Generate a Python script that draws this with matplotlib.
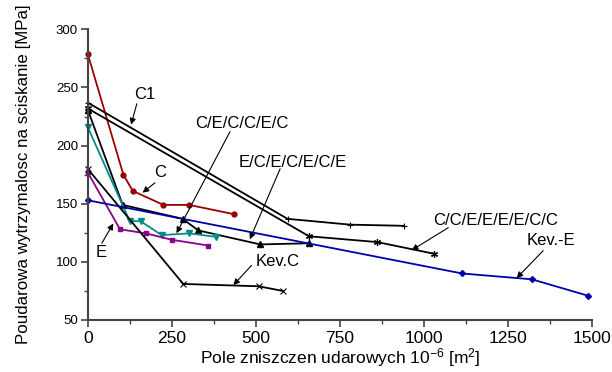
import matplotlib
matplotlib.use("Agg")
import matplotlib.pyplot as plt
from matplotlib.ticker import MultipleLocator

plt.rcParams['font.family'] = ['Liberation Sans', 'DejaVu Sans']
plt.rcParams['mathtext.fontset'] = 'custom'
plt.rcParams['mathtext.rm'] = 'Liberation Sans'
plt.rcParams['mathtext.it'] = 'Liberation Sans:italic'
plt.rcParams['mathtext.bf'] = 'Liberation Sans:bold'

# ---- data ----
c_x = [0, 106, 134, 225, 301, 435]
c_y = [279, 175, 161, 149, 149, 141]

c1_x = [0, 594, 780, 940]
c1_y = [237, 137, 132, 131]

ccee_x = [0, 658, 861, 1029]
ccee_y = [232, 122, 117, 107]

ecec_x = [0, 104, 282, 329, 513, 659]
ecec_y = [231, 149, 137, 127, 115, 116]

cecc_x = [0, 125, 157, 220, 302, 381]
cecc_y = [216, 135, 135, 123, 124.5, 121.5]

e_x = [0, 96, 173, 250, 359]
e_y = [177, 128, 124.5, 119, 114]

kevc_x = [0, 284, 508, 580]
kevc_y = [180, 81, 79, 75]

keve_x = [0, 1113, 1320, 1486]
keve_y = [153, 90, 85, 71]

labels = ["C1", "C", "C/E/C/C/E/C", "E/C/E/C/E/C/E", "Kev.C", "E",
          "C/C/E/E/E/E/C/C", "Kev.-E"]

x_ticks = [0, 250, 500, 750, 1000, 1250, 1500]
y_ticks = [50, 100, 150, 200, 250, 300]

# ---- figure ----
fig = plt.figure(figsize=(6.12, 3.72), dpi=100)
ax = fig.add_axes([0.1433, 0.1398, 0.8245, 0.7814])

lw = 1.3
ax.plot(c_x, c_y, color='#9b0000', marker='o', ms=3.5, lw=lw, clip_on=False)
ax.plot(c1_x, c1_y, color='black', marker='+', ms=5, mew=0.8, lw=lw, clip_on=False)
ax.plot(ccee_x, ccee_y, color='black', marker=(6, 2, 0), ms=5, mew=0.9, lw=lw, clip_on=False)
ax.plot(ecec_x, ecec_y, color='black', marker='^', ms=4, lw=lw, clip_on=False)
ax.plot(cecc_x, cecc_y, color='#008b8b', marker='v', ms=4.5, lw=lw, clip_on=False)
ax.plot(e_x, e_y, color='#8b008b', marker='s', ms=3.5, lw=lw, clip_on=False)
ax.plot(kevc_x, kevc_y, color='black', marker='x', ms=4.5, mew=0.8, lw=lw, clip_on=False)
ax.plot(keve_x, keve_y, color='#0000a8', marker='D', ms=3, lw=lw, clip_on=False)

# annotations: text position, arrow tail, arrow tip (data coords)
text_pos = [(170, 244), (215, 177), (457, 218.6), (611, 185.5), (564, 100.7),
            (39.5, 108), (1212, 136), (1377, 118)]
tails = [(146, 236), (200, 168), (423, 212), (572, 180), (487, 97),
         (42, 116), (1072, 129.4), (1354, 109.6)]
tips = [(129, 218), (163, 159.5), (264, 124.6), (482, 119.4), (433, 80),
        (76, 133), (963, 110), (1275, 86)]

for lab, tp, tl, tip in zip(labels, text_pos, tails, tips):
    ax.text(tp[0], tp[1], lab, ha='center', va='center', fontsize=12)
    ax.annotate('', xy=tip, xytext=tl,
                arrowprops=dict(arrowstyle='-|>', color='black', lw=0.8,
                                mutation_scale=9, shrinkA=0, shrinkB=0))

ax.set_xlim(0, 1500)
ax.set_ylim(50, 300)
ax.set_xticks(x_ticks)
ax.set_yticks(y_ticks)
ax.xaxis.set_minor_locator(MultipleLocator(125))
ax.yaxis.set_minor_locator(MultipleLocator(25))

for s in ['top', 'right']:
    ax.spines[s].set_visible(False)
for s in ['left', 'bottom']:
    ax.spines[s].set_linewidth(1.5)
    ax.spines[s].set_color('#444444')

ax.tick_params(axis='both', which='major', direction='out', length=5, width=1.2, color='#444444')
ax.tick_params(axis='both', which='minor', direction='out', length=3, width=1.0, color='#444444')
ax.tick_params(axis='x', labelsize=12.5, pad=3)
ax.tick_params(axis='y', labelsize=9.5, pad=2)

ax.set_xlabel('Pole zniszczen udarowych 10$^{-6}$ [m$^{2}$]', fontsize=12.5, labelpad=0)
ax.set_ylabel('Poudarowa wytrzymalosc na sciskanie [MPa]', fontsize=12.2, labelpad=18)

fig.savefig('out.png', dpi=100)
